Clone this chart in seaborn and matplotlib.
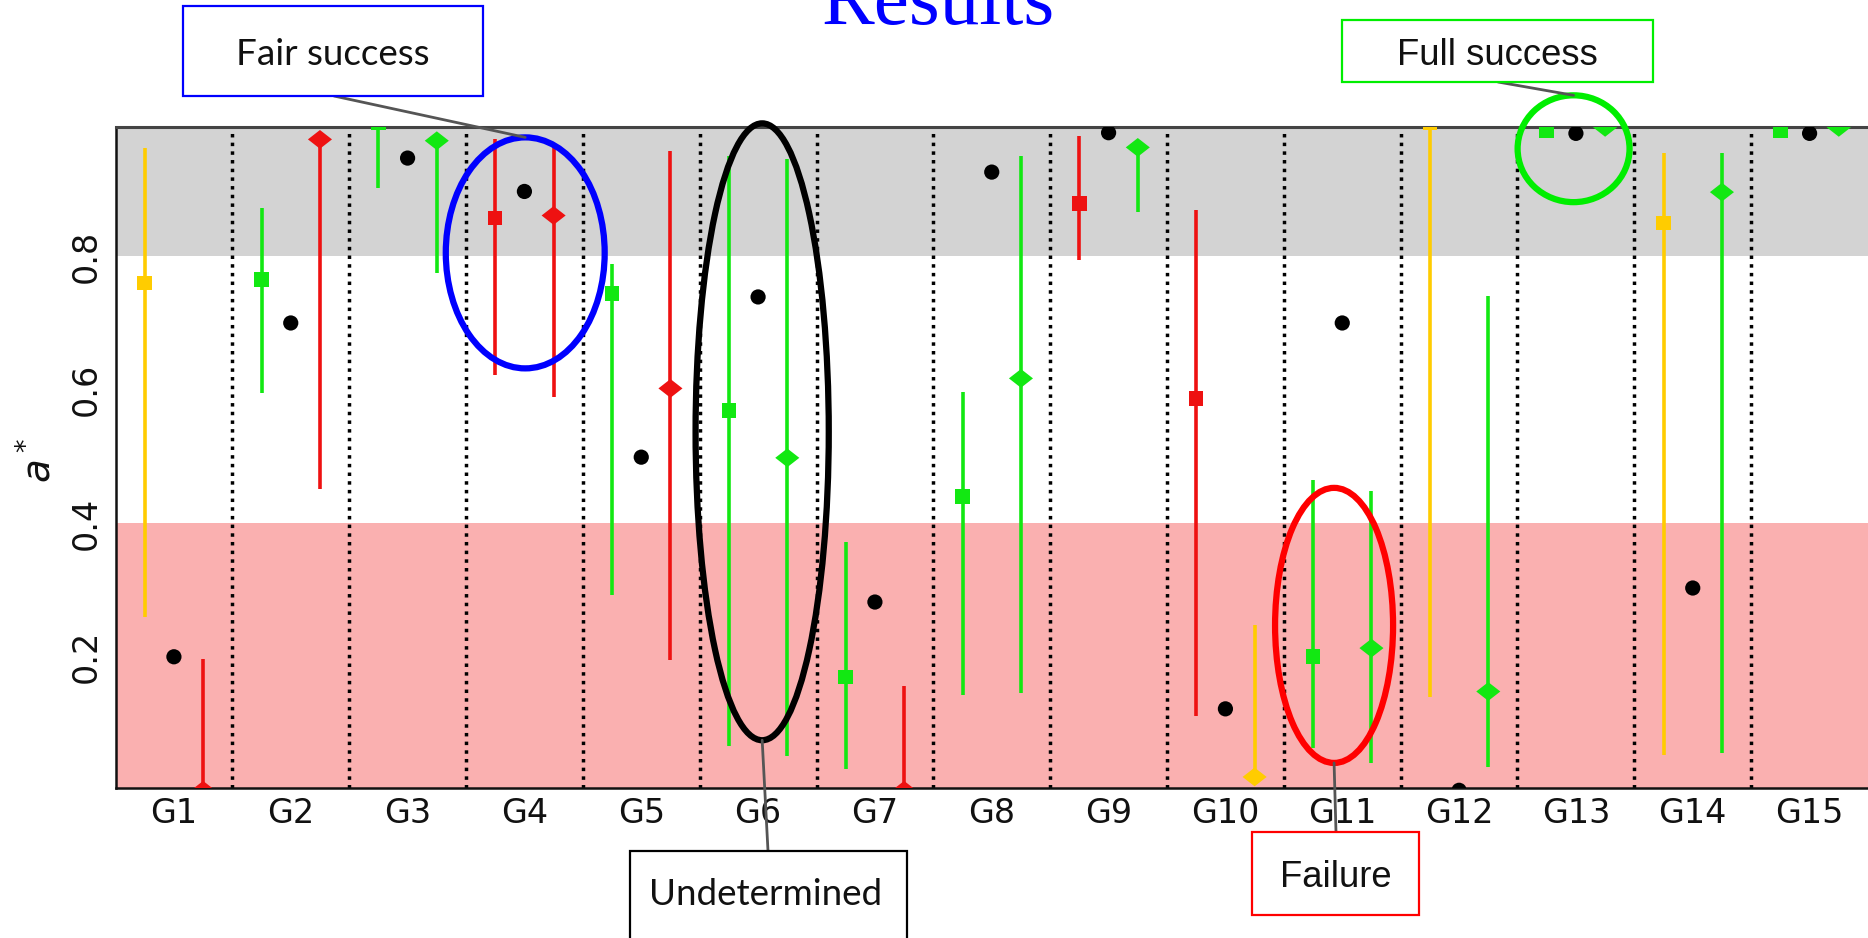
import numpy as np
import pandas as pd
import matplotlib
matplotlib.use("Agg")
import matplotlib.pyplot as plt
import seaborn as sns
from matplotlib.patches import Ellipse, Rectangle, ConnectionPatch
from matplotlib.path import Path

sns.set_theme(style="white")
plt.rcParams["font.family"] = ["DejaVu Sans"]

# ---------------------------------------------------------------- data
groups = ["G1", "G2", "G3", "G4", "G5", "G6", "G7", "G8",
          "G9", "G10", "G11", "G12", "G13", "G14", "G15"]

# square marker (left member of each group) with its range
sq_val = [0.760, 0.765, 1.000, 0.857, 0.744, 0.569, 0.170, 0.440,
          0.879, 0.587, 0.200, 1.000, 0.988, 0.850, 0.988]
sq_lo = [0.260, 0.595, 0.902, 0.622, 0.292, 0.066, 0.032, 0.143,
         0.795, 0.111, 0.063, 0.140, 0.988, 0.053, 0.988]
sq_hi = [0.962, 0.872, 1.000, 0.975, 0.789, 0.950, 0.372, 0.597,
         0.980, 0.869, 0.465, 1.000, 0.988, 0.955, 0.988]
sq_cat = ["yellow", "green", "green", "red", "green", "green", "green", "green",
          "red", "red", "green", "yellow", "green", "yellow", "green"]

# reference point (middle member of each group)
dot_val = [0.200, 0.700, 0.947, 0.897, 0.499, 0.739, 0.282, 0.926,
           0.985, 0.122, 0.700, 0.000, 0.984, 0.303, 0.984]

# diamond marker (right member of each group) with its range
dia_val = [0.000, 0.975, 0.973, 0.861, 0.602, 0.498, 0.000, 0.617,
           0.963, 0.020, 0.213, 0.148, 0.993, 0.896, 0.993]
dia_lo = [0.000, 0.452, 0.775, 0.589, 0.195, 0.052, 0.000, 0.146,
          0.866, 0.020, 0.041, 0.035, 0.993, 0.056, 0.993]
dia_hi = [0.196, 0.975, 0.973, 0.969, 0.957, 0.945, 0.156, 0.950,
          0.963, 0.247, 0.448, 0.740, 0.993, 0.955, 0.993]
dia_cat = ["red", "red", "green", "red", "red", "green", "red", "green",
           "green", "yellow", "green", "green", "green", "green", "green"]

# outcome bands on the a* axis
band_fail = (0.0, 0.4)
band_success = (0.8, 1.0)

palette = {"yellow": "#ffcc00", "green": "#12e812", "red": "#ee1111", "black": "#000000"}

# ---------------------------------------------------------------- frame
W, H = 1868, 938
fig = plt.figure(figsize=(W / 100, H / 100), dpi=100)
fig.patch.set_facecolor("white")


def fpt(px, py):
    """pixel position (origin top-left) -> figure fraction"""
    return px / W, 1 - py / H


ax_l, ax_t, ax_b = 115.5, 126.7, 788.3
ax = fig.add_axes([ax_l / W, 1 - ax_b / H, (W - ax_l) / W, (ax_b - ax_t) / H])

pos = np.arange(1, len(groups) + 1)
df = pd.concat([
    pd.DataFrame({"pos": pos - 0.25, "value": sq_val, "lo": sq_lo, "hi": sq_hi,
                  "cat": sq_cat, "kind": "square"}),
    pd.DataFrame({"pos": pos, "value": dot_val, "lo": dot_val, "hi": dot_val,
                  "cat": "black", "kind": "dot"}),
    pd.DataFrame({"pos": pos + 0.25, "value": dia_val, "lo": dia_lo, "hi": dia_hi,
                  "cat": dia_cat, "kind": "diamond"}),
], ignore_index=True)

# background bands
ax.axhspan(band_success[0], band_success[1] + 0.1, color="#d3d3d3", lw=0, zorder=0)
ax.axhspan(band_fail[0] - 0.1, band_fail[1], color="#fab0b0", lw=0, zorder=0)

# group separators
for b in pos[:-1] + 0.5:
    ax.axvline(b, color="black", ls=(0, (1, 1.5)), lw=2.5, zorder=2)

# ranges
for cat, sub in df[df["kind"] != "dot"].groupby("cat"):
    ax.vlines(sub["pos"], sub["lo"], sub["hi"], colors=palette[cat], lw=2.6, zorder=3)

# a diamond that is a little wider than it is tall
wide_diamond = Path([(-1.0, 0.0), (0.0, 0.78), (1.0, 0.0), (0.0, -0.78), (-1.0, 0.0)],
                    [Path.MOVETO, Path.LINETO, Path.LINETO, Path.LINETO, Path.CLOSEPOLY])

sns.scatterplot(data=df, x="pos", y="value", hue="cat", style="kind", size="kind",
                palette=palette,
                markers={"square": "s", "dot": "o", "diamond": wide_diamond},
                sizes={"square": 110, "dot": 120, "diamond": 300},
                linewidth=0, legend=False, ax=ax, zorder=4)

ax.set_xlim(0.5, len(groups) + 0.5)
ax.set_ylim(0.003, 0.994)
ax.set_xticks(pos)
ax.set_xticklabels(groups)
ax.set_yticks([0.2, 0.4, 0.6, 0.8])
ax.set_yticklabels(["0.2", "0.4", "0.6", "0.8"])
ax.set_xlabel("")
ax.set_ylabel("")
ax.tick_params(direction="in", length=8, width=1.5, colors="black", labelsize=24,
               labelcolor="#111111")
ax.tick_params(axis="x", pad=6)
ax.tick_params(axis="y", pad=9, labelrotation=90)
for lab in ax.get_yticklabels():
    lab.set_va("center")
for side in ("left", "bottom"):
    ax.spines[side].set_color("#111111")
    ax.spines[side].set_linewidth(1.8)
ax.spines["top"].set_color("#444444")
ax.spines["top"].set_linewidth(2.2)
ax.spines["right"].set_visible(False)

fig.text(*fpt(38, 460), "$a^*$", rotation=90, ha="center", va="center",
         fontsize=28, color="#111111")

# title
fig.text(*fpt(938, 24), "Results", fontfamily="Liberation Serif", fontsize=57,
         color="#0000ff", ha="center", va="baseline")

# ---------------------------------------------------------------- callouts
# (centre x, centre y, width, height) in data units
ellipses = {
    "fair": ((4.007, 0.805), 1.36, 0.346, "#0000ff"),
    "undet": ((6.035, 0.537), 1.14, 0.924, "#000000"),
    "full": ((12.98, 0.961), 0.958, 0.160, "#00ee00"),
    "fail": ((10.93, 0.247), 1.01, 0.412, "#ff0000"),
}
for key, (c, w, h, col) in ellipses.items():
    ax.add_patch(Ellipse(c, w, h, fill=False, edgecolor=col, lw=4.5,
                         clip_on=False, zorder=6))

# boxes: (x0, y0, x1, y1) in pixels, edge colour, text centre x, baseline y, font, size
boxes = [
    ("Fair success", (183, 6, 483, 96), "#0000ff", 333, 65, "Lato", 26.5,
     (334, 96), "fair", +1),
    ("Full success", (1342, 20, 1653, 82), "#00ee00", 1497, 65, "Liberation Sans", 26.3,
     (1498, 82), "full", +1),
    ("Undetermined", (630, 851, 907, 960), "#000000", 766, 905, "Lato", 26.5,
     (768, 851), "undet", -1),
    ("Failure", (1252, 832, 1419, 915), "#ff0000", 1336, 887, "Liberation Sans", 26.3,
     (1336, 832), "fail", -1),
]
for text, (x0, y0, x1, y1), col, tx, ty, fam, fs, anchor, key, side in boxes:
    (cx, cy), w, h, _ = ellipses[key]
    con = ConnectionPatch(xyA=fpt(*anchor), coordsA=fig.transFigure,
                          xyB=(cx, cy + side * h / 2), coordsB=ax.transData,
                          color="#555555", lw=2.0, zorder=5)
    fig.add_artist(con)
    fx0, fy1 = fpt(x0, y0)
    fx1, fy0 = fpt(x1, y1)
    fig.add_artist(Rectangle((fx0, fy0), fx1 - fx0, fy1 - fy0, transform=fig.transFigure,
                             facecolor="white", edgecolor=col, lw=1.6, zorder=7))
    fig.text(*fpt(tx, ty), text, fontfamily=fam, fontsize=fs, color="#111111",
             ha="center", va="baseline", zorder=8)

fig.savefig("out.png", dpi=100)
